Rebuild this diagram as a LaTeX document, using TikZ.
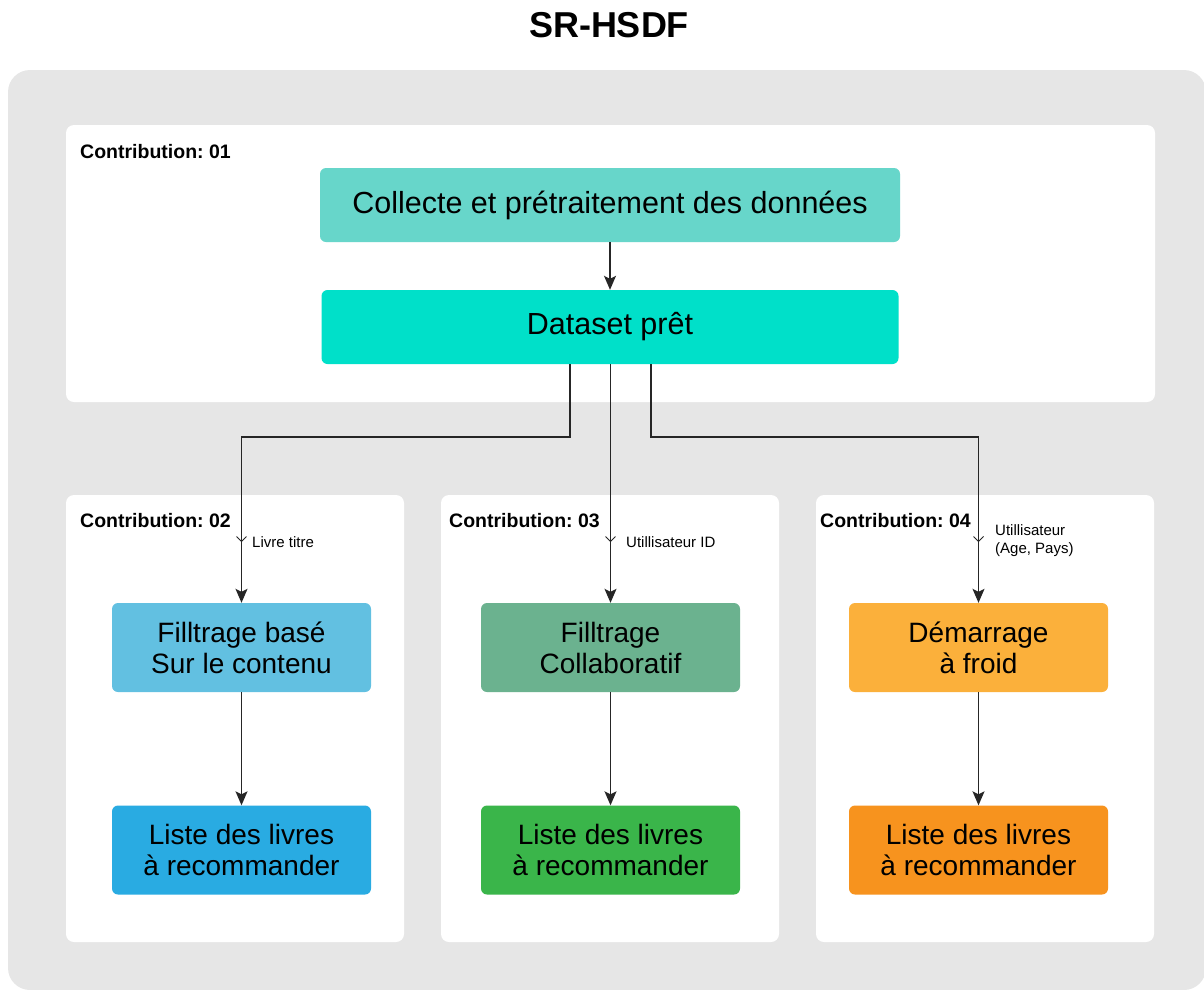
\documentclass[tikz,border=0pt]{standalone}
\usepackage{fontspec}
\setmainfont{Liberation Sans}
\usetikzlibrary{arrows.meta}
\frenchspacing

\definecolor{panelgray}{HTML}{E6E6E6}
\definecolor{collecte}{HTML}{67D6CA}
\definecolor{dataset}{HTML}{00E0C9}
\definecolor{cbfilter}{HTML}{62C0E1}
\definecolor{cffilter}{HTML}{6BB28F}
\definecolor{coldstart}{HTML}{FBB03B}
\definecolor{cblist}{HTML}{29ABE2}
\definecolor{cflist}{HTML}{3AB54A}
\definecolor{coldlist}{HTML}{F7931E}

\tikzset{
  x=1pt, y=-1pt,
  card/.style={fill=white, rounded corners=8},
  stage/.style={rounded corners=6, inner sep=0pt, align=center, text=black,
                font=\fontsize{30.5}{34}\selectfont},
  algo/.style={rounded corners=6, inner sep=0pt, align=center, text=black,
               minimum width=259, minimum height=89,
               font=\fontsize{28}{31}\selectfont},
  cardtitle/.style={anchor=west, inner sep=0pt, font=\bfseries\fontsize{19.5}{22}\selectfont},
  edgelabel/.style={anchor=west, inner sep=0pt, align=left,
                    font=\fontsize{15}{18}\selectfont},
  link/.style={line width=1.4pt, draw=black!85},
  arr/.style={link, -{Stealth[length=14pt, width=12pt, inset=3pt]}},
  chev/.pic={\draw[line width=1pt, black!85] (-5,-3.5) -- (0,1.5) -- (5,-3.5);}
}

\begin{document}
\begin{tikzpicture}
\useasboundingbox (0,0) rectangle (1204,989);

% title
\node[font=\bfseries\fontsize{36}{40}\selectfont] (title) at (609,25) {SR-HSDF};

% outer panel and the four contribution cards
\fill[panelgray, rounded corners=22] (8,70) rectangle (1206,990);
\fill[card] (66,125) rectangle (1155,402);
\fill[card] (66,495) rectangle (404,942);
\fill[card] (441,495) rectangle (779,942);
\fill[card] (816,495) rectangle (1154,942);

\node[cardtitle] (c1) at (80,152) {Contribution: 01};
\node[cardtitle] (c2) at (80,521) {Contribution: 02};
\node[cardtitle] (c3) at (449,521) {Contribution: 03};
\node[cardtitle] (c4) at (820,521) {Contribution: 04};

% contribution 01: data preparation
\node[stage, fill=collecte, minimum width=580, minimum height=74] (col) at (610,205)
  {Collecte et prétraitement des données};
\node[stage, fill=dataset, minimum width=577, minimum height=74] (ds) at (610,327)
  {Dataset prêt};

% three recommendation branches
\node[algo, fill=cbfilter]  (f1) at (241.5,647.5) {Filltrage basé\\Sur le contenu};
\node[algo, fill=cffilter]  (f2) at (610.5,647.5) {Filltrage\\Collaboratif};
\node[algo, fill=coldstart] (f3) at (978.5,647.5) {Démarrage\\à froid};

\node[algo, fill=cblist]   (l1) at (241.5,850) {Liste des livres\\à recommander};
\node[algo, fill=cflist]   (l2) at (610.5,850) {Liste des livres\\à recommander};
\node[algo, fill=coldlist] (l3) at (978.5,850) {Liste des livres\\à recommander};

% connectors
\draw[arr] (col.south -| 610,0) -- (ds.north -| 610,0);

\coordinate (j1) at (570,437);
\coordinate (j3) at (651,437);
\draw[arr] (ds.south -| j1) -- (j1) -| (f1.north);
\draw[arr] (ds.south -| f2.north) -- (f2.north);
\draw[arr] (ds.south -| j3) -- (j3) -| (f3.north);

\draw[arr] (f1.south) -- (l1.north);
\draw[arr] (f2.south) -- (l2.north);
\draw[arr] (f3.south) -- (l3.north);

% direction marks and labels on the branch connectors
\coordinate (m1) at (f1.north |- 0,540);
\coordinate (m2) at (f2.north |- 0,540);
\coordinate (m3) at (f3.north |- 0,540);
\pic at (m1) {chev};
\pic at (m2) {chev};
\pic at (m3) {chev};

\node[edgelabel] (e1) at (252,542) {Livre titre};
\node[edgelabel] (e2) at (626,542) {Utillisateur ID};
\node[edgelabel] (e3) at (995,541) {Utillisateur\\(Age, Pays)};
\end{tikzpicture}
\end{document}
